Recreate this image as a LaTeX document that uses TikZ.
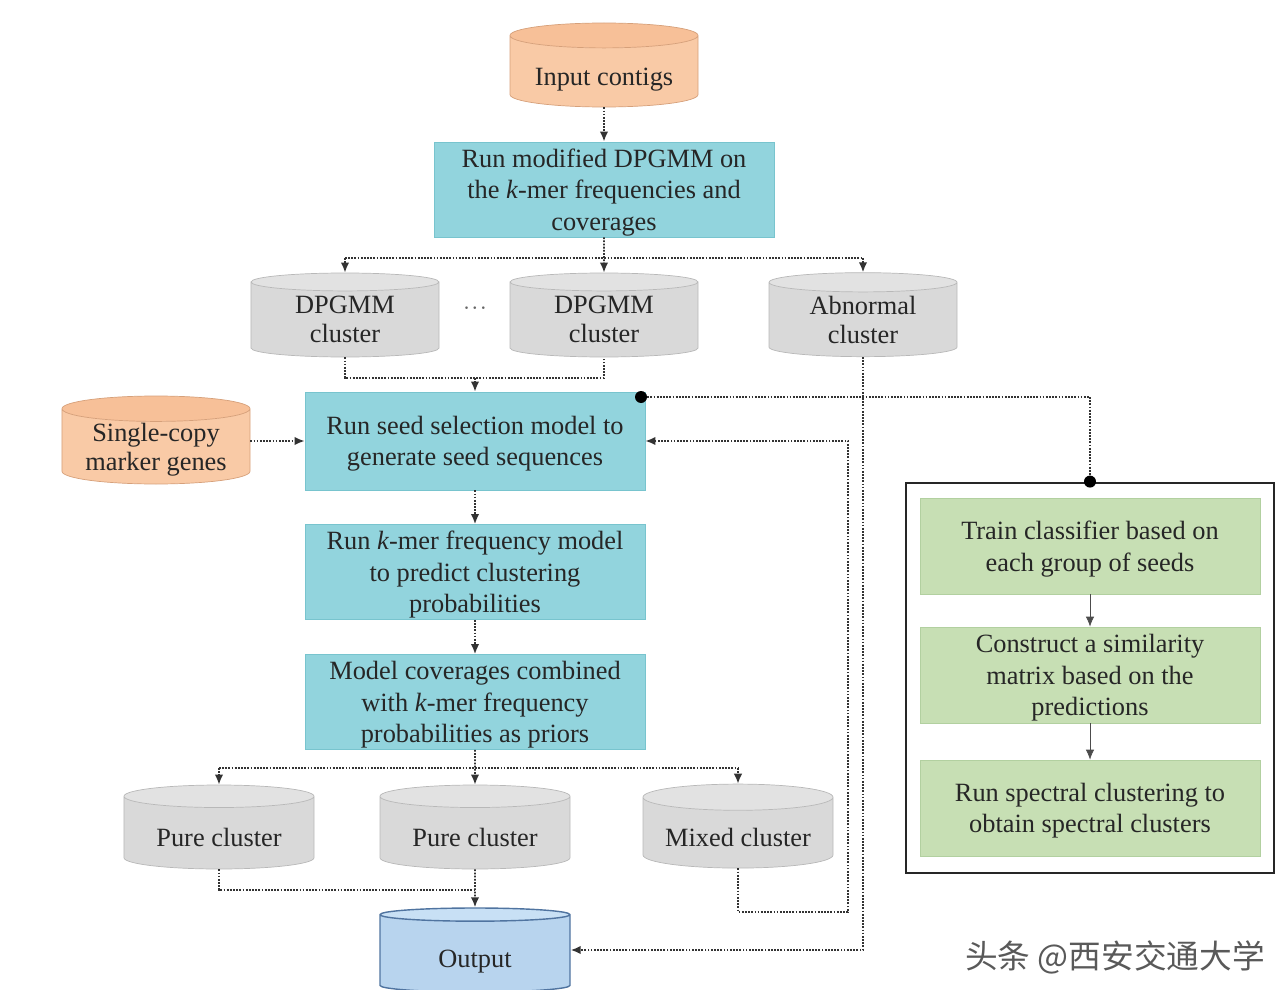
\documentclass[tikz,border=0pt]{standalone}
\usepackage{fontspec}
\setmainfont{Liberation Serif}
\newfontfamily\cjk{Noto Sans CJK SC}
\usetikzlibrary{shapes.geometric,arrows.meta}

\definecolor{procfill}{RGB}{146,212,221}
\definecolor{procline}{RGB}{120,196,206}
\definecolor{trainfill}{RGB}{199,223,180}
\definecolor{trainline}{RGB}{178,208,160}
\definecolor{infill}{RGB}{249,202,166}
\definecolor{intop}{RGB}{247,192,152}
\definecolor{inline}{RGB}{214,160,122}
\definecolor{greyfill}{RGB}{217,217,217}
\definecolor{greytop}{RGB}{226,226,226}
\definecolor{outfill}{RGB}{184,212,238}
\definecolor{outtop}{RGB}{200,224,245}
\definecolor{outline}{RGB}{80,116,160}

\begin{document}
\begin{tikzpicture}[x=0.2mm, y=-0.2mm, align=center, text=black!85,
	font=\fontsize{15}{18}\selectfont,
	proc/.style = {fill=procfill, draw=procline, minimum width=68mm, minimum height=19mm,
		inner sep=0pt, text depth=0pt, execute at begin node={\rule{0pt}{12pt}}},
	train/.style = {proc, fill=trainfill, draw=trainline, minimum height=19.2mm},
	db/.style = {cylinder, shape border rotate=90, aspect=0.18, minimum width=37.6mm, minimum height=16.8mm,
		font=\fontsize{15}{17}\selectfont, inner sep=0pt, text depth=0pt, execute at begin node={\rule{0pt}{16pt}},
		anchor=shape center, cylinder uses custom fill},
	twoline/.style = {font=\fontsize{15}{16.5}\selectfont, execute at begin node={\rule{0pt}{22pt}}},
	dbin/.style = {db, draw=inline, cylinder body fill=infill, cylinder end fill=intop},
	dbgrey/.style = {db, draw=greyfill!85!black, cylinder body fill=greyfill, cylinder end fill=greytop},
	dbout/.style = {db, draw=outline, thick, cylinder body fill=outfill, cylinder end fill=outtop},
	link/.style = {draw=black!80, line width=1pt, dash pattern=on 1pt off 0.8pt},
	flow/.style = {link, -{Latex[length=2mm,width=1.7mm]}},
	joint/.style = {circle, fill=black, inner sep=0pt, minimum size=2.4mm}]
	\useasboundingbox (0,0) rectangle (1280,990);

	% main column
	\node[dbin] (input) at (604,65) {Input contigs};
	\node[proc] (run) [below of = input, node distance = 23.6mm] {Run modified DPGMM on\\the \textit{k}-mer frequencies and\\coverages};
	\node[dbgrey, twoline] (c2) at (604,315) {DPGMM\\cluster};
	\node[dbgrey, twoline] (c1) [left of = c2, node distance = 51.8mm] {DPGMM\\cluster};
	\node[dbgrey, twoline] (abn) [right of = c2, node distance = 51.8mm] {Abnormal\\cluster};
	\node[text=black!60, inner sep=0pt] (dots) at (475,309) {$\cdot\!\cdot\!\cdot$};
	\node[proc, minimum height=19.6mm] (seed) at (475,441) {Run seed selection model to\\generate seed sequences};
	\node[dbin, twoline, minimum height=17.6mm] (marker) at (156,440) {Single-copy\\marker genes};
	\node[proc] (kmer) [below of = seed, node distance = 26.2mm] {Run \textit{k}-mer frequency model\\to predict clustering\\probabilities};
	\node[proc] (model) [below of = kmer, node distance = 26mm] {Model coverages combined\\with \textit{k}-mer frequency\\probabilities as priors};
	\node[dbgrey, minimum width=38mm] (pure2) at (475,827) {Pure cluster};
	\node[dbgrey, minimum width=38mm] (pure1) [left of = pure2, node distance = 51.2mm] {Pure cluster};
	\node[dbgrey, minimum width=38mm] (mixed) [right of = pure2, node distance = 52.6mm] {Mixed cluster};
	\node[dbout, minimum width=38mm] (output) at (475,950) {Output};

	% spectral part
	\node[draw=black!85, line width=1.6pt, minimum width=73.6mm, minimum height=78mm] (frame) at (1090,678) {};
	\node[train] (g1) at (1090,546) {Train classifier based on\\each group of seeds};
	\node[train] (g2) [below of = g1, node distance = 25.8mm] {Construct a similarity\\matrix based on the\\predictions};
	\node[train] (g3) [below of = g2, node distance = 26.6mm] {Run spectral clustering to\\obtain spectral clusters};

	\node[text=black!65, font=\cjk\fontsize{18.6}{20}\selectfont] (mark) at (1115,957) {头条 @西安交通大学};

	\coordinate (split1) at (604,258);
	\coordinate (join1) at (475,378);
	\coordinate (split2) at (475,768);
	\coordinate (join2) at (475,890);
	\coordinate (loop) at (848,912);
	\coordinate (tap) at (641,397);

	\draw[flow] (input) -- (run);
	\draw[link] (c1.north |- split1) -- (abn.north |- split1);
	\draw[flow] (run.south) -- (c2.north);
	\draw[flow] (c1.north |- split1) -- (c1.north);
	\draw[flow] (abn.north |- split1) -- (abn.north);
	\draw[link] (c1.south) |- (join1) -| (c2.south);
	\draw[flow] (join1) -- (seed.north);
	\draw[flow] (seed.west -| marker.east) -- (seed.west);
	\draw[flow] (seed) -- (kmer);
	\draw[flow] (kmer) -- (model);
	\draw[link] (pure1.north |- split2) -- (mixed.north |- split2);
	\draw[flow] (model.south) -- (pure2.north);
	\draw[flow] (pure1.north |- split2) -- (pure1.north);
	\draw[flow] (mixed.north |- split2) -- (mixed.north);
	\draw[link] (pure1.south) |- (join2);
	\draw[flow] (pure2.south) -- (output.north);
	\draw[flow] (mixed.south) |- (loop) |- (seed.east);
	\draw[flow] (abn.south) |- (output.shape center -| output.east);
	\draw[link] (tap) -| (frame.north);
	\node[joint] at (tap) {};
	\node[joint] at (frame.north) {};
	\draw[-{Latex[length=2mm,width=1.7mm]}, draw=black!70, thin] (g1) -- (g2);
	\draw[-{Latex[length=2mm,width=1.7mm]}, draw=black!70, thin] (g2) -- (g3);
\end{tikzpicture}
\end{document}
